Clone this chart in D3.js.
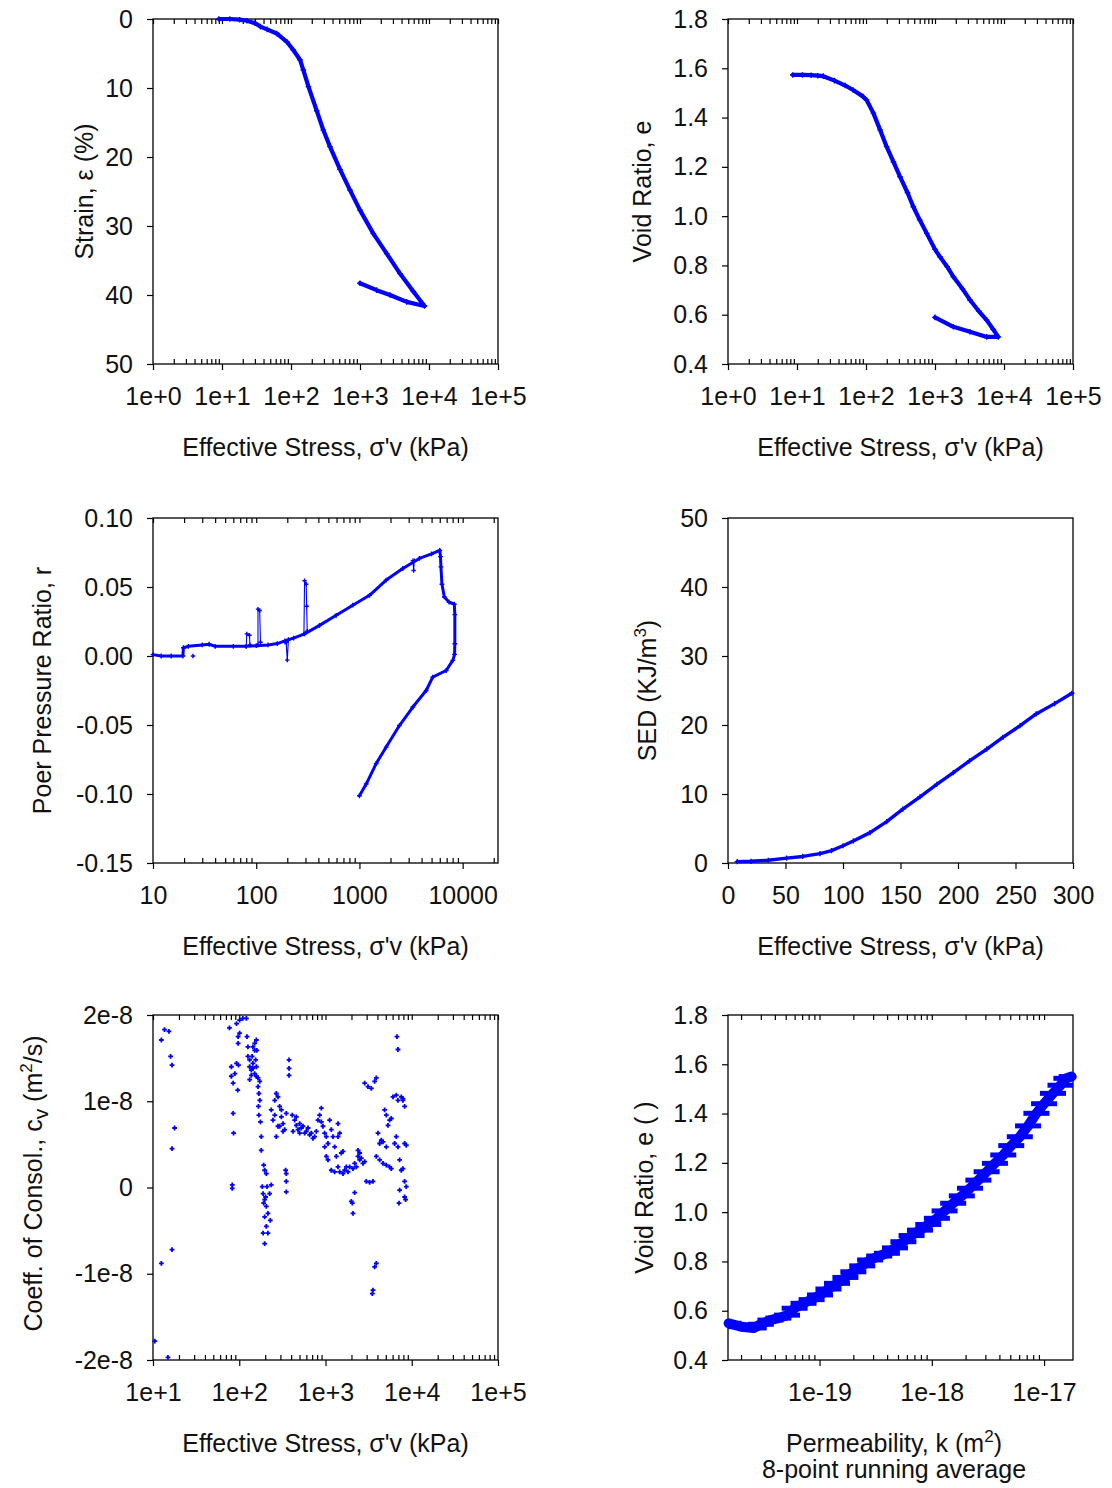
<!DOCTYPE html>
<html>
<head>
<meta charset="utf-8">
<script src="https://cdn.jsdelivr.net/npm/d3@7"></script>
<style>
  body { margin: 0; background: #fff; }
  svg { font-family: "Liberation Sans", Arial, sans-serif; }
  .tick text { fill: #111; font-size: 25px; }
  .tick line { stroke: #000; stroke-width: 1.2; }
</style>
</head>
<body>
<svg id="chart" width="1112" height="1488"></svg>
<script>
// ---- data ----
// strain vs effective stress (loading then unloading)
var strainStress = [9, 13, 18, 23, 30, 36, 45, 62, 87, 108, 135, 151, 179, 236, 294, 367, 513, 716, 1000, 1560, 2440, 3800, 5930, 8600, 4750, 2720, 1740, 1000];
var strainValue  = [0, 0, 0.1, 0.25, 0.6, 1.1, 1.5, 2.1, 3.3, 4.5, 5.9, 7.4, 9.8, 13.3, 16.1, 18.5, 21.8, 24.8, 27.7, 31.1, 34.0, 36.9, 39.5, 41.6, 41.0, 40.0, 39.3, 38.3];

// void ratio vs effective stress
var voidStress = [8.7, 12, 16, 20, 24, 35, 50, 65, 91, 102, 128, 160, 199, 250, 311, 400, 485, 600, 759, 1000, 1180, 1500, 1845, 2500, 3215, 4300, 5610, 7000, 8270, 5610, 3215, 1845, 1000];
var voidValue  = [1.573, 1.573, 1.572, 1.57, 1.568, 1.55, 1.53, 1.512, 1.485, 1.471, 1.418, 1.35, 1.282, 1.22, 1.16, 1.095, 1.038, 0.985, 0.93, 0.865, 0.835, 0.795, 0.754, 0.705, 0.66, 0.615, 0.578, 0.54, 0.51, 0.51, 0.531, 0.551, 0.589];

// pore pressure ratio, main path
var poreStress = [10, 12, 15, 19.5, 19.7, 22, 30, 35, 40, 60, 80, 100, 130, 160, 190, 230, 294, 411, 596, 863, 1253, 1816, 2630, 3810, 5000, 6000, 6100, 6160, 6300, 6650, 7400, 8300, 8400, 8400, 8350, 8030, 6920, 5130, 4430, 3290, 2440, 1816, 1452, 1163, 1000];
var poreRatio  = [0.001, 0, 0, 0, 0.006, 0.007, 0.008, 0.0085, 0.007, 0.007, 0.007, 0.0075, 0.008, 0.009, 0.011, 0.013, 0.016, 0.0222, 0.0295, 0.0368, 0.044, 0.055, 0.0634, 0.0707, 0.074, 0.0765, 0.072, 0.0646, 0.052, 0.0428, 0.039, 0.0375, 0.03, 0.0089, 0.0012, -0.0032, -0.0105, -0.0153, -0.025, -0.037, -0.0504, -0.066, -0.078, -0.0928, -0.1013];
// pore pressure ratio, short excursions off the main path
var poreSpikeStress = [[80, 81, 86, 87], [104, 104, 108, 110], [190, 195, 200, 205], [290, 294, 305, 308, 312], [3300, 3350, 3400], [24.4]];
var poreSpikeRatio  = [[0.007, 0.016, 0.015, 0.008], [0.008, 0.034, 0.033, 0.010], [0.010, 0.010, -0.003, 0.012], [0.016, 0.0545, 0.052, 0.036, 0.018], [0.069, 0.062, 0.069], [0]];

// strain energy density
var sedStress = [8, 20, 35, 51, 65, 80, 90, 100, 109, 123.5, 138, 152, 167, 181.5, 196, 210, 225, 239, 254, 268, 284, 299];
var sedValue  = [0.2, 0.25, 0.4, 0.7, 0.95, 1.35, 1.8, 2.5, 3.2, 4.4, 6.0, 7.8, 9.6, 11.4, 13.1, 14.8, 16.5, 18.2, 19.9, 21.6, 23.1, 24.6];

// coefficient of consolidation scatter (units of 1e-8 m2/s)
var cvStress = [12.5, 13.6, 15.3, 16.0, 16.6, 17.8, 16.6, 16.6, 12.5, 10.5, 14.9,
  77, 81, 85, 86, 83, 83, 85, 93, 97, 101, 93, 98, 96, 89, 101, 110, 81, 97,
  121, 123, 126, 132, 138, 144, 151, 158, 165, 144, 158, 173, 169, 176, 180, 180, 192, 197, 206,
  132, 138, 144, 151, 158, 165, 173, 151, 160, 155, 126, 132, 141, 169, 167,
  189, 197, 206, 197, 206, 189, 215, 225, 229, 197, 185, 235, 202, 210, 215, 192,
  235, 258, 269, 281, 294, 308, 322, 294, 246, 269, 336, 351, 281, 258, 308, 322,
  378, 378, 378, 351, 351, 351, 345,
  412, 439, 459, 480, 502, 548, 599, 655, 716, 749, 783, 502, 459, 420, 573, 627, 685, 525,
  818, 855, 895, 935, 978, 1022, 1069, 1117, 1168, 1222, 978, 1022, 895,
  1396, 1396, 1460, 1277, 1335, 1596, 1526,
  1069, 1168, 1277, 1460, 1668, 1744, 1906, 2084, 2277, 2381, 2489, 2721, 2845, 2381, 2489, 1396, 1596, 1825, 2178, 2600,
  1993, 2084, 2178, 2047,
  2974, 3250, 3553,
  2845, 3109, 3398, 3714, 3883,
  3883, 3714, 3553, 3491,
  4060, 4244, 4437, 4639, 5070, 3883, 4244, 4639, 5070, 5541, 5793,
  4850, 5070, 5541, 5300, 5793,
  6056, 6619, 6920, 7563, 7907, 8266, 6619, 6920, 6331, 7234, 7563, 7907, 8266, 8641, 8266, 8641, 8490, 8266, 7234, 7113, 6737, 6920, 7907];
var cvValue = [1.71, 1.83, 1.81, 1.52, 1.42, 0.69, 0.45, -0.72, -0.88, -1.78, -1.97,
  1.85, 1.29, 1.21, 0.63, 0.03, -0.01, 0.86, 1.44, 1.67, 1.94, 1.90, 1.42, 1.13, 1.32, 1.79, 1.96, 1.40, 1.75,
  1.96, 1.75, 1.52, 1.40, 1.36, 1.63, 1.59, 1.29, 1.17, 1.44, 1.71, 1.01, 0.84, 0.76, 0.59, 0.43, 0.26, 0.20, 0.16,
  1.48, 1.30, 1.38, 1.32, 1.40, 1.27, 1.23, 1.67, 1.59, 1.48, 1.63, 1.25, 1.52, 1.09, 0.94,
  -0.07, -0.14, -0.22, -0.34, -0.45, -0.53, -0.30, -0.07, -0.38, -0.65, 0.01, 0.03, -0.11, 0.01, -0.53, -0.18,
  0.90, 1.01, 1.09, 1.05, 0.94, 0.82, 0.74, 0.71, 0.78, 0.59, 0.67, 0.86, 0.71, 0.84, 0.90, 0.65,
  1.48, 1.38, 1.30, 0.16, 0.07, -0.05, 0.20,
  0.84, 0.78, 0.72, 0.67, 0.63, 0.71, 0.65, 0.61, 0.57, 0.59, 0.65, 0.74, 0.82, 0.65, 0.63, 0.69, 0.63, 0.69,
  0.78, 0.84, 0.92, 0.71, 0.63, 0.59, 0.51, 0.78, 0.67, 0.59, 0.47, 0.36, 0.76,
  0.74, 0.59, 0.63, 0.47, 0.36, 0.42, 0.40,
  0.32, 0.20, 0.18, 0.18, 0.20, 0.24, 0.24, 0.22, 0.24, 0.36, 0.32, 0.28, 0.30, 0.43, 0.40, 0.24, 0.16, 0.18, 0.28, 0.34,
  -0.16, -0.30, -0.06, -0.18,
  0.07, 0.06, 0.07,
  1.21, 1.17, 1.15, 1.23, 1.27,
  -0.88, -0.92, -1.19, -1.23,
  0.63, 0.51, 0.55, 0.53, 0.47, 0.36, 0.32, 0.28, 0.26, 0.24, 0.22,
  0.90, 0.84, 0.78, 0.72, 0.80,
  1.05, 1.07, 1.01, 1.05, 1.01, 0.94, 0.59, 0.47, 0.51, 0.32, 0.20, 0.22, 0.51, 0.49, 0.07, 0.01, -0.14, -0.11, -0.03, -0.18, 1.75, 1.60, 1.03];

// void ratio vs permeability, 8-point running average
var permK = [1.55e-20, 2.0e-20, 2.59e-20, 3.0e-20, 3.65e-20, 4.3e-20, 5.13e-20, 6.0e-20, 7.2e-20, 8.5e-20, 1.01e-19, 1.2e-19, 1.43e-19, 1.7e-19, 2.0e-19, 2.4e-19, 2.82e-19, 3.4e-19, 3.98e-19, 4.7e-19, 5.58e-19, 6.6e-19, 7.85e-19, 9.3e-19, 1.11e-18, 1.3e-18, 1.55e-18, 1.85e-18, 2.19e-18, 2.6e-18, 3.08e-18, 3.65e-18, 4.33e-18, 5.1e-18, 6.08e-18, 7.2e-18, 8.55e-18, 1.0e-17, 1.2e-17, 1.4e-17, 1.58e-17, 1.76e-17];
var permE = [0.549, 0.535, 0.53, 0.545, 0.562, 0.57, 0.582, 0.61, 0.63, 0.645, 0.664, 0.688, 0.711, 0.735, 0.758, 0.782, 0.806, 0.822, 0.833, 0.855, 0.88, 0.905, 0.927, 0.95, 0.975, 1.005, 1.036, 1.066, 1.097, 1.13, 1.164, 1.198, 1.232, 1.27, 1.306, 1.35, 1.401, 1.44, 1.482, 1.515, 1.543, 1.55];

// tick values
var decadeTicks1 = [1, 10, 100, 1000, 10000, 100000];
var decadeTicks3 = [10, 100, 1000, 10000];
var decadeTicks5 = [10, 100, 1000, 10000, 100000];
var decadeTicks6 = [1e-19, 1e-18, 1e-17];
var strainTicks = [0, 10, 20, 30, 40, 50];
var voidTicks = [0.4, 0.6, 0.8, 1.0, 1.2, 1.4, 1.6, 1.8];
var poreTicks = [-0.15, -0.10, -0.05, 0, 0.05, 0.10];
var sedXTicks = [0, 50, 100, 150, 200, 250, 300];
var sedYTicks = [0, 10, 20, 30, 40, 50];
var cvTicks = [-2, -1, 0, 1, 2];

// ---- layout ----
var W = 345, H = 345;
var colLeft = [153, 728], rowTop = [19, 518, 1015];
var blue = "#0000ff";
var svg = d3.select("#chart");

function zip(a, b) { return a.map(function(d, i) { return [d, b[i]]; }); }

function logMinor(domain) {
  var out = [], lo = Math.min(domain[0], domain[1]), hi = Math.max(domain[0], domain[1]);
  for (var p = Math.floor(Math.log10(lo)); p <= Math.ceil(Math.log10(hi)); p++) {
    for (var k = 2; k <= 9; k++) {
      var v = k * Math.pow(10, p);
      if (v >= lo * 0.999 && v <= hi * 1.001) out.push(v);
    }
  }
  return out;
}

function expFmt(v) {
  var e = Math.round(Math.log10(v));
  return "1e" + (e < 0 ? "-" + (-e) : "+" + e);
}

function title(g, x, y, rotate, parts) {
  var t = g.append("text")
    .attr("text-anchor", "middle")
    .attr("fill", "#111")
    .attr("font-size", 25)
    .attr("transform", "translate(" + x + "," + y + ")" + (rotate ? " rotate(-90)" : ""));
  var shift = 0;
  parts.forEach(function(p) {
    var s = t.append("tspan").text(p[0]);
    var target = p[1] == "sup" ? -10 : p[1] == "sub" ? 6 : 0;
    if (target != shift) s.attr("dy", target - shift);
    shift = target;
    if (p[1]) s.attr("font-size", p[1] == "sub" ? 21 : 17);
  });
  return t;
}

function panel(p) {
  var g = svg.append("g").attr("transform", "translate(" + p.left + "," + p.top + ")");
  var x = p.x.range([0, W]), y = p.y.range([H, 0]);

  if (p.xMinor) {
    g.append("g").attr("transform", "translate(0," + H + ")")
      .call(d3.axisBottom(x).tickValues(p.xMinor).tickSize(-5).tickSizeOuter(0).tickFormat(""));
    g.append("g")
      .call(d3.axisTop(x).tickValues(p.xMinor.concat(p.xMajor)).tickSize(-5).tickSizeOuter(0).tickFormat(""));
  }
  g.append("g").attr("transform", "translate(0," + H + ")")
    .call(d3.axisBottom(x).tickValues(p.xMajor).tickSize(6).tickSizeOuter(0).tickPadding(17).tickFormat(p.xFmt));
  g.append("g")
    .call(d3.axisLeft(y).tickValues(p.yTicks).tickSize(6).tickSizeOuter(0).tickPadding(14).tickFormat(p.yFmt));
  g.selectAll(".domain").remove();

  g.append("rect").attr("width", W).attr("height", H)
    .attr("fill", "none").attr("stroke", "#000").attr("stroke-width", 1.3);

  title(g, p.xTitleX || W / 2, H + 92, false, p.xTitle);
  if (p.xTitle2) title(g, p.xTitleX || W / 2, H + 118, false, p.xTitle2);
  title(g, p.yTitleX, H / 2 + (p.yTitleDy || 0), true, p.yTitle);
  return { g: g, x: x, y: y };
}

function cross(sel, size, width) {
  sel.attr("d", "M" + (-size) + ",0H" + size + "M0," + (-size) + "V" + size)
    .attr("stroke", blue).attr("stroke-width", width || 1.4).attr("fill", "none");
}

function curve(pn, pts, width, mark) {
  var line = d3.line().x(function(d) { return pn.x(d[0]); }).y(function(d) { return pn.y(d[1]); });
  pn.g.append("path").datum(pts)
    .attr("d", line).attr("fill", "none").attr("stroke", blue)
    .attr("stroke-width", width).attr("stroke-linejoin", "round").attr("stroke-linecap", "round");
  if (mark) {
    pn.g.append("g").selectAll("path").data(pts).enter().append("path")
      .attr("transform", function(d) { return "translate(" + pn.x(d[0]) + "," + pn.y(d[1]) + ")"; })
      .call(cross, mark);
  }
}

// ---- panel 1: strain ----
var p1 = panel({
  left: colLeft[0], top: rowTop[0],
  x: d3.scaleLog().domain([1, 1e5]), xMajor: decadeTicks1, xMinor: logMinor([1, 1e5]), xFmt: expFmt,
  y: d3.scaleLinear().domain([50, 0]), yTicks: strainTicks, yFmt: d3.format("d"),
  xTitle: [["Effective Stress, σ'v (kPa)"]],
  yTitle: [["Strain, ε (%)"]], yTitleX: -60
});
curve(p1, zip(strainStress, strainValue), 4.2, 2.8);

// ---- panel 2: void ratio ----
var p2 = panel({
  left: colLeft[1], top: rowTop[0],
  x: d3.scaleLog().domain([1, 1e5]), xMajor: decadeTicks1, xMinor: logMinor([1, 1e5]), xFmt: expFmt,
  y: d3.scaleLinear().domain([0.4, 1.8]), yTicks: voidTicks, yFmt: function(d) { return d.toFixed(1); },
  xTitle: [["Effective Stress, σ'v (kPa)"]],
  yTitle: [["Void Ratio, e"]], yTitleX: -77
});
curve(p2, zip(voidStress, voidValue), 4.2, 2.8);

// ---- panel 3: pore pressure ratio ----
var p3 = panel({
  left: colLeft[0], top: rowTop[1],
  x: d3.scaleLog().domain([10, 22000]), xMajor: decadeTicks3, xMinor: logMinor([10, 22000]), xFmt: d3.format("d"),
  y: d3.scaleLinear().domain([-0.15, 0.10]), yTicks: poreTicks, yFmt: function(d) { return d.toFixed(2); },
  xTitle: [["Effective Stress, σ'v (kPa)"]],
  yTitle: [["Poer Pressure Ratio, r"]], yTitleX: -102
});
poreSpikeStress.forEach(function(s, i) { curve(p3, zip(s, poreSpikeRatio[i]), 1.1, 2.2); });
curve(p3, zip(poreStress, poreRatio), 3, 2.4);

// ---- panel 4: strain energy density ----
var p4 = panel({
  left: colLeft[1], top: rowTop[1],
  x: d3.scaleLinear().domain([0, 300]), xMajor: sedXTicks, xFmt: d3.format("d"),
  y: d3.scaleLinear().domain([0, 50]), yTicks: sedYTicks, yFmt: d3.format("d"),
  xTitle: [["Effective Stress, σ'v (kPa)"]],
  yTitle: [["SED (KJ/m"], ["3", "sup"], [")"]], yTitleX: -72
});
curve(p4, zip(sedStress, sedValue), 3.4, 2.6);

// ---- panel 5: coefficient of consolidation ----
var p5 = panel({
  left: colLeft[0], top: rowTop[2],
  x: d3.scaleLog().domain([10, 1e5]), xMajor: decadeTicks5, xMinor: logMinor([10, 1e5]), xFmt: expFmt,
  y: d3.scaleLinear().domain([-2, 2]), yTicks: cvTicks, yFmt: function(d) { return d == 0 ? "0" : d + "e-8"; },
  xTitle: [["Effective Stress, σ'v (kPa)"]],
  yTitle: [["Coeff. of Consol., c"], ["v", "sub"], [" (m"], ["2", "sup"], ["/s)"]], yTitleX: -111, yTitleDy: -4
});
p5.g.append("g").selectAll("path").data(zip(cvStress, cvValue)).enter().append("path")
  .attr("transform", function(d) { return "translate(" + p5.x(d[0]) + "," + p5.y(d[1]) + ")"; })
  .call(cross, 2.4, 1.8);

// ---- panel 6: void ratio vs permeability ----
var p6 = panel({
  left: colLeft[1], top: rowTop[2],
  x: d3.scaleLog().domain([1.53e-20, 1.81e-17]), xMajor: decadeTicks6, xMinor: logMinor([1.53e-20, 1.81e-17]), xFmt: expFmt,
  y: d3.scaleLinear().domain([0.4, 1.8]), yTicks: voidTicks, yFmt: function(d) { return d.toFixed(1); },
  xTitle: [["Permeability, k (m"], ["2", "sup"], [")"]], xTitle2: [["8-point running average"]], xTitleX: 166,
  yTitle: [["Void Ratio, e ( )"]], yTitleX: -75
});
var permPts = zip(permK, permE);
curve(p6, permPts, 10, 0);
p6.g.append("g").selectAll("line").data(permPts).enter().append("line")
  .attr("x1", function(d) { return Math.max(0, p6.x(d[0]) - 13); })
  .attr("x2", function(d) { return Math.min(W, p6.x(d[0]) + 13); })
  .attr("y1", function(d) { return p6.y(d[1]); })
  .attr("y2", function(d) { return p6.y(d[1]); })
  .attr("stroke", blue).attr("stroke-width", 5);
</script>
</body>
</html>
